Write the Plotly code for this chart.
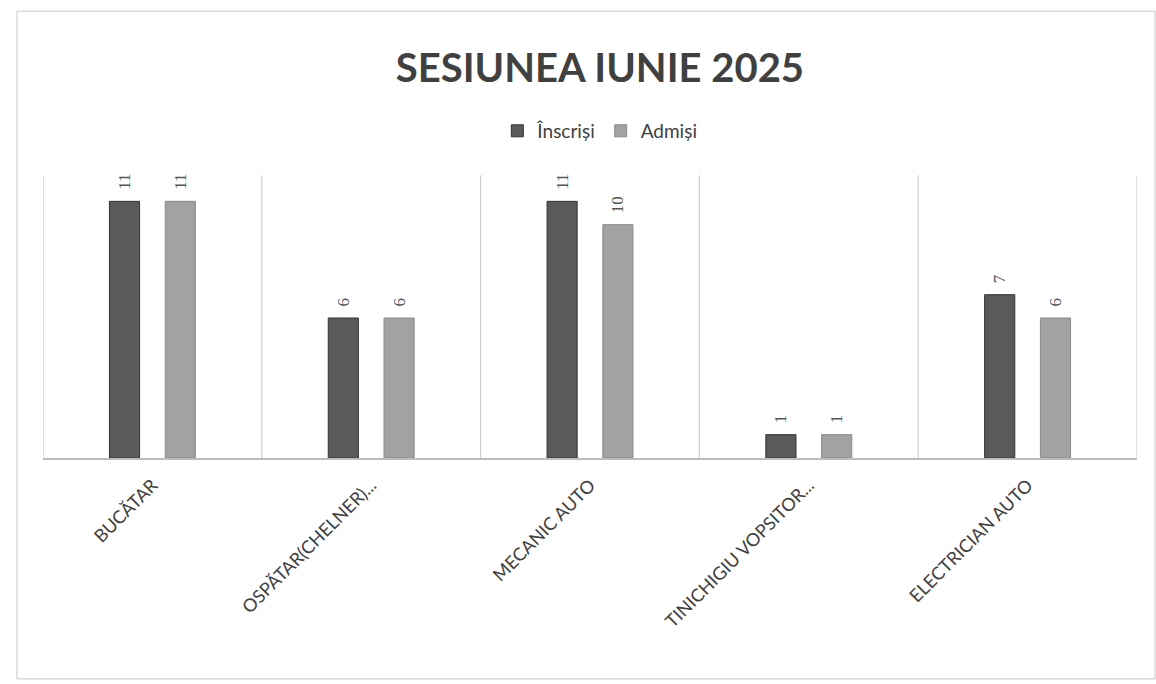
import plotly.graph_objects as go

# Session results by trade
categories = ["BUCĂTAR", "OSPĂTAR(CHELNER)...", "MECANIC AUTO", "TINICHIGIU VOPSITOR...", "ELECTRICIAN AUTO"]
inscrisi = [11, 6, 11, 1, 7]
admisi = [11, 6, 10, 1, 6]

x_pos = list(range(len(categories)))

label_font = dict(family="Liberation Serif", size=17, color="#555555")
# non-breaking spaces keep the rotated value labels a little clear of the bar tops
label_template = "\u00a0\u00a0%{y}"

fig = go.Figure()
fig.add_trace(go.Bar(
    name="Înscriși", x=x_pos, y=inscrisi,
    marker=dict(color="#5a5a5a", line=dict(color="#333333", width=1)),
    texttemplate=label_template, textposition="outside", textangle=-90,
    textfont=label_font, cliponaxis=False,
))
fig.add_trace(go.Bar(
    name="Admiși", x=x_pos, y=admisi,
    marker=dict(color="#a2a2a2", line=dict(color="#8a8a8a", width=1)),
    texttemplate=label_template, textposition="outside", textangle=-90,
    textfont=label_font, cliponaxis=False,
))

# Category separators
shapes = []
for i in range(len(categories) + 1):
    xb = i - 0.5
    shapes.append(dict(type="line", xref="x", yref="paper", x0=xb, x1=xb, y0=0, y1=1.01,
                       line=dict(color="#cfcfcf", width=1.2)))
# Outer frame of the chart
shapes.append(dict(type="rect", xref="paper", yref="paper",
                   x0=-0.0238, x1=1.0165, y0=-0.789, y1=1.596,
                   line=dict(color="#c8c8c8", width=1)))

fig.update_layout(
    width=1156, height=684,
    margin=dict(l=43, r=19, t=178, b=226),
    paper_bgcolor="white", plot_bgcolor="white",
    barmode="group", bargap=0.49, bargroupgap=0.46,
    title=dict(text="<b>SESIUNEA IUNIE 2025</b>", x=0.519, xanchor="center", y=0.90, yanchor="middle",
               font=dict(family="Lato", size=40, color="#404040")),
    legend=dict(orientation="h", x=0.509, xanchor="center", y=1.168, yanchor="middle",
                font=dict(family="Lato", size=19, color="#404040"), bgcolor="rgba(0,0,0,0)"),
    showlegend=True,
    shapes=shapes,
    xaxis=dict(range=[-0.5, len(categories) - 0.5], tickmode="array", tickvals=x_pos, ticktext=categories,
               tickangle=-45, tickfont=dict(family="Lato", size=18, color="#404040"),
               showgrid=False, zeroline=False, showline=True, linecolor="#bdbdbd", linewidth=1.5,
               ticks="outside", ticklen=8, tickcolor="rgba(0,0,0,0)"),
    yaxis=dict(range=[0, 12], visible=False, showgrid=False, zeroline=False),
)

fig.write_html("out.html")
